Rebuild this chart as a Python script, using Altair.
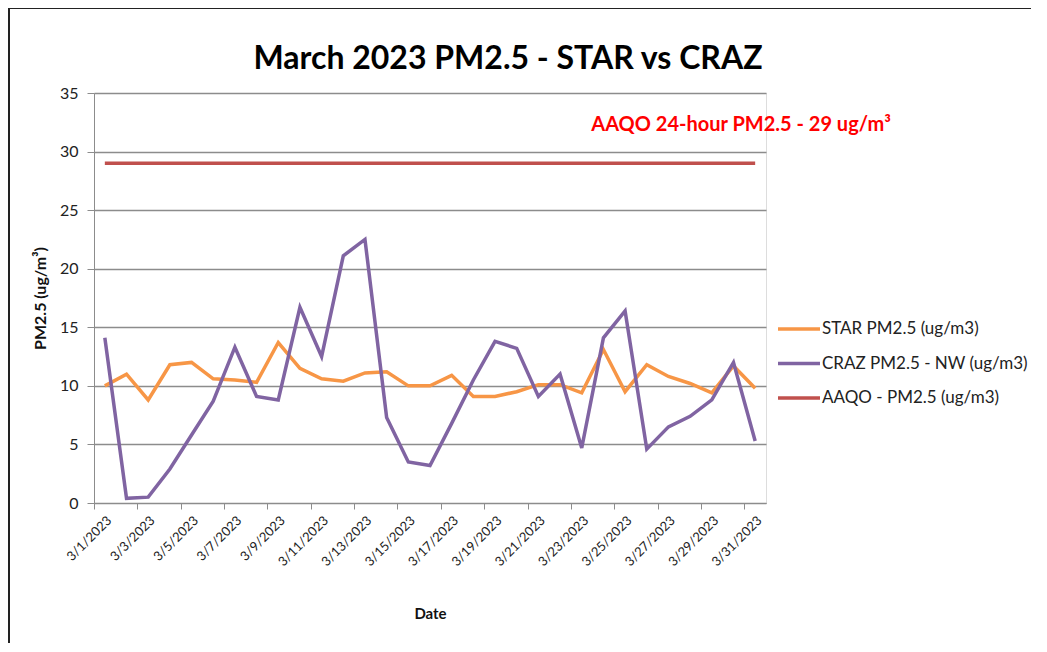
import json
import altair as alt
import pandas as pd

dates = ["3/1/2023", "3/2/2023", "3/3/2023", "3/4/2023", "3/5/2023", "3/6/2023",
         "3/7/2023", "3/8/2023", "3/9/2023", "3/10/2023", "3/11/2023", "3/12/2023",
         "3/13/2023", "3/14/2023", "3/15/2023", "3/16/2023", "3/17/2023", "3/18/2023",
         "3/19/2023", "3/20/2023", "3/21/2023", "3/22/2023", "3/23/2023", "3/24/2023",
         "3/25/2023", "3/26/2023", "3/27/2023", "3/28/2023", "3/29/2023", "3/30/2023",
         "3/31/2023"]
star = [10.0, 11.0, 8.8, 11.8, 12.0, 10.6, 10.5, 10.3, 13.7, 11.5, 10.6, 10.4, 11.1,
        11.2, 10.0, 10.0, 10.9, 9.1, 9.1, 9.5, 10.1, 10.1, 9.4, 13.1, 9.5, 11.8, 10.8,
        10.2, 9.4, 11.7, 9.8]
craz = [14.1, 0.4, 0.5, 2.9, 5.8, 8.7, 13.3, 9.1, 8.8, 16.7, 12.5, 21.1, 22.5, 7.3,
        3.5, 3.2, 6.8, 10.5, 13.8, 13.2, 9.1, 11.0, 4.7, 14.1, 16.4, 4.6, 6.5, 7.4,
        8.8, 12.0, 5.3]
aaqo = [29] * 31

series_names = ["STAR PM2.5 (ug/m3)", "CRAZ PM2.5 - NW (ug/m3)", "AAQO - PM2.5 (ug/m3)"]
series_colors = ["#F79646", "#8064A2", "#C0504D"]
series_widths = [3.5, 3.5, 4.5]

annotation_text = "AAQO 24-hour PM2.5 - 29 ug/m\u00b3"
annotation_day = 30.35
annotation_value = 32.3

rows = []
for name, vals in zip(series_names, [star, craz, aaqo]):
    for i, v in enumerate(vals):
        rows.append({"day": i + 1, "date": dates[i], "value": v, "series": name})
df = pd.DataFrame(rows)

W, H = 672, 410
FONT = "Lato"
GRAY = "#8C8C8C"

x_scale = alt.Scale(domain=[0.5, 31.5], nice=False, zero=False)
y_scale = alt.Scale(domain=[0, 35], nice=False)

tick_vals = [0.5 + 2 * k for k in range(16)]
label_expr = json.dumps(dates) + "[round(datum.value - 0.5)]"

x_axis = alt.Axis(
    values=tick_vals, labelExpr=label_expr, title="Date", grid=False,
    labelAngle=315, labelAlign="right", labelBaseline="middle",
    labelOffset=15, labelPadding=9, tickSize=6, tickColor=GRAY, domainColor=GRAY,
    labelFont=FONT, labelFontSize=13, labelColor="#222222",
    titleFont=FONT, titleFontSize=15, titleFontWeight="bold", titleColor="#111111",
    titleX=W / 2, titleY=110, titleBaseline="middle", titleAlign="center",
    labelOverlap=False,
)
y_axis = alt.Axis(
    values=[0, 5, 10, 15, 20, 25, 30, 35], title="PM2.5 (ug/m\u00b3)",
    grid=True, gridColor=GRAY, gridWidth=1.3, tickSize=7, tickColor=GRAY,
    domainColor=GRAY, labelPadding=9, labelFont=FONT, labelFontSize=16,
    labelColor="#222222", titleFont=FONT, titleFontSize=16, titleFontWeight="bold",
    titleColor="#111111", titleAngle=270, titleX=-54, titleY=H / 2,
    titleAlign="center", titleBaseline="middle",
)

lines = alt.Chart(df).mark_line(strokeJoin="miter").encode(
    x=alt.X("day:Q", scale=x_scale, axis=x_axis),
    y=alt.Y("value:Q", scale=y_scale, axis=y_axis),
    color=alt.Color(
        "series:N",
        scale=alt.Scale(domain=series_names, range=series_colors),
        legend=alt.Legend(
            title=None, orient="none", legendX=682, legendY=213,
            symbolType="stroke", symbolSize=1764, symbolStrokeWidth=3.5,
            labelFont=FONT, labelFontSize=17, labelColor="#222222", labelLimit=400,
            rowPadding=3.5, labelOffset=0, padding=0,
        ),
    ),
    strokeWidth=alt.StrokeWidth(
        "series:N",
        scale=alt.Scale(domain=series_names, range=series_widths),
        legend=None,
    ),
    detail="series:N",
)

annot = alt.Chart(pd.DataFrame({"day": [annotation_day], "value": [annotation_value],
                                "text": [annotation_text]})).mark_text(
    font=FONT, fontSize=20, fontWeight="bold", color="#FF0000",
    align="center", baseline="middle",
).encode(
    x=alt.X("day:Q", scale=x_scale),
    y=alt.Y("value:Q", scale=y_scale),
    text="text:N",
)

frame_df = pd.DataFrame({"k": [0]})
frame_left = alt.Chart(frame_df).mark_rule(color="#222222", strokeWidth=2).encode(
    x=alt.value(-85), y=alt.value(-85), y2=alt.value(H + 150),
)
frame_top = alt.Chart(frame_df).mark_rule(color="#222222", strokeWidth=2).encode(
    x=alt.value(-86), x2=alt.value(W + 270), y=alt.value(-85),
)

chart = alt.layer(lines, annot, frame_left, frame_top).properties(
    width=W, height=H,
    padding={"left": 86, "top": 85, "right": 265, "bottom": 140},
    autosize=alt.AutoSizeParams(type="none"),
    title=alt.TitleParams(
        "March 2023 PM2.5 - STAR vs CRAZ", font=FONT, fontSize=32,
        fontWeight="bold", color="#000000", anchor="middle", dx=78, offset=0, dy=69,
    ),
).configure_view(stroke=None).configure(background="white")

chart.save("out.html", embed_options={"renderer": "svg", "actions": False})
